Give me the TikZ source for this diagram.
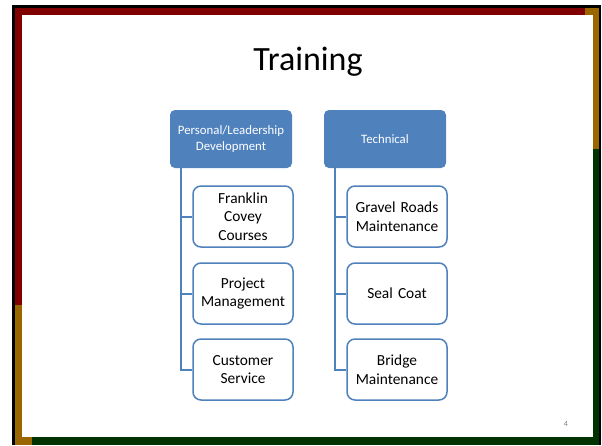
\documentclass[tikz,border=0pt]{standalone}
\usepackage{fontspec}
\setmainfont{Carlito}
\usetikzlibrary{calc}
\definecolor{slidered}{HTML}{800000}
\definecolor{slidegold}{HTML}{996600}
\definecolor{slidegreen}{HTML}{003300}
\definecolor{artblue}{HTML}{4F81BD}
\tikzset{
  headbox/.style={fill=artblue, rounded corners=5pt, minimum width=122pt, minimum height=58pt,
    text width=118pt, align=center, text=white, inner sep=0pt,
    font=\fontsize{12.8}{16}\selectfont},
  itembox/.style={draw=artblue, line width=1.5pt, fill=white, rounded corners=8pt,
    minimum width=100pt, minimum height=61pt, text width=96pt, align=center, inner sep=0pt,
    font=\fontsize{15.4}{18.5}\selectfont},
  link/.style={draw=artblue, line width=2pt}
}
\begin{document}
\begin{tikzpicture}[x=1pt,y=-1pt]
  \useasboundingbox (0,0) rectangle (602,445);
  % slide frame
  \fill[black] (12,5) rectangle (601,445);
  \fill[slidered] (15,8) rectangle (585,15);
  \fill[slidered] (15,8) rectangle (22,305);
  \fill[slidegold] (585,8) rectangle (599,15);
  \fill[slidegold] (593,8) rectangle (599,149);
  \fill[slidegold] (15,305) rectangle (22,445);
  \fill[slidegold] (15,437) rectangle (32,445);
  \fill[slidegreen] (593,149) rectangle (599,445);
  \fill[slidegreen] (32,437) rectangle (599,445);
  \fill[white] (22,15) rectangle (593,437);
  \node[font=\fontsize{34}{40}\selectfont] (title) at (308,62) {Training};
  % headers
  \node[headbox] (pers) at (231,139) {Personal/Leadership\\Development};
  \node[headbox] (tech) at (385,139) {Technical};
  \coordinate (p1) at ($(pers.south west)+(11,0)$);
  \coordinate (t1) at ($(tech.south west)+(11,0)$);
  % items
  \node[itembox] (fcc) at (243,216.5) {Franklin\\Covey\\Courses};
  \node[itembox] (pm) at (243,293.5) {Project\\Management};
  \node[itembox] (cs) at (243,369.5) {Customer\\Service};
  \node[itembox] (grm) at (397,216.5) {Gravel Roads\\Maintenance};
  \node[itembox] (sc) at (397,293.5) {Seal Coat};
  \node[itembox] (bm) at (397,369.5) {Bridge\\Maintenance};
  \draw[link] (p1) |- (fcc.west);
  \draw[link] (p1) |- (pm.west);
  \draw[link] (p1) |- (cs.west);
  \draw[link] (t1) |- (grm.west);
  \draw[link] (t1) |- (sc.west);
  \draw[link] (t1) |- (bm.west);
  \node[text=gray, font=\fontsize{8}{10}\selectfont] (num) at (566,424) {4};
\end{tikzpicture}
\end{document}
